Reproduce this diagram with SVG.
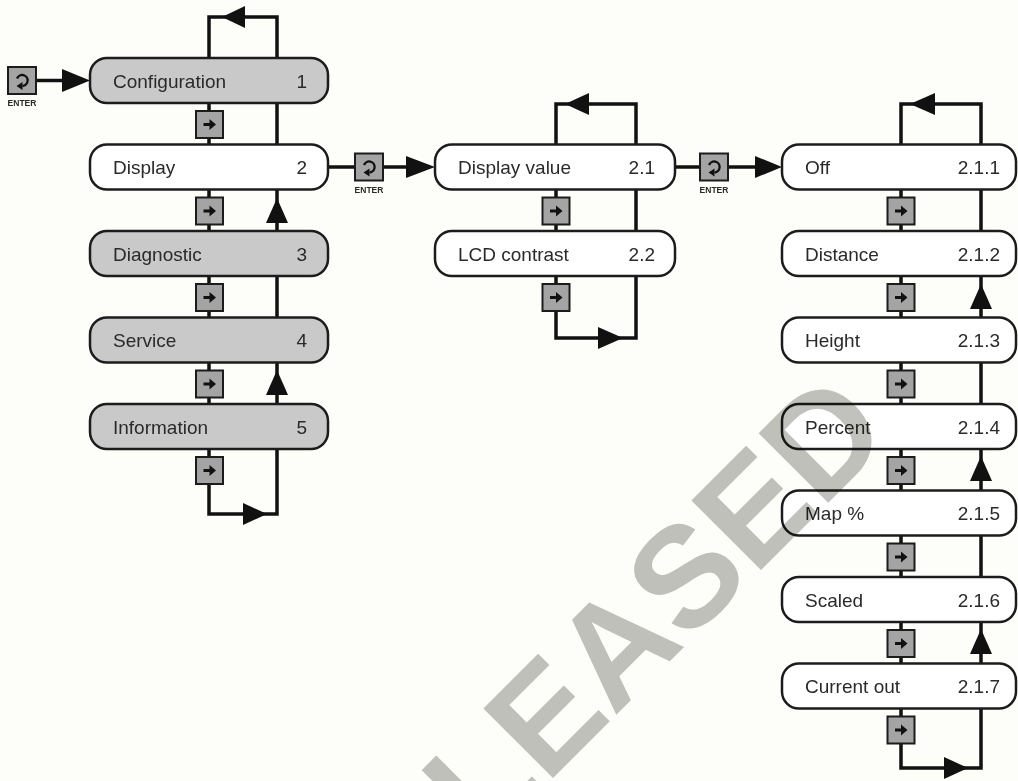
<svg xmlns="http://www.w3.org/2000/svg" xmlns:xlink="http://www.w3.org/1999/xlink" width="1018" height="781" viewBox="0 0 1018 781">
<style>
.node{stroke:#1c1c1c;stroke-width:2.5}
.g{fill:#c9c9c9}
.w{fill:#ffffff}
.lbl{font-family:"Liberation Sans",Arial,sans-serif;font-size:19px;fill:#2a2a2a}
.num{font-family:"Liberation Sans",Arial,sans-serif;font-size:19px;fill:#2a2a2a;text-anchor:end}
.wire{fill:none;stroke:#111;stroke-width:3.5}
.ah{fill:#111}
.ent{font-family:"Liberation Sans",Arial,sans-serif;font-weight:bold;font-size:8.5px;fill:#2a2a2a;text-anchor:middle}
.wm{font-family:"Liberation Sans",Arial,sans-serif;font-weight:bold;font-size:143px;fill:#c1c2bd;mix-blend-mode:multiply}
</style>
<defs>
<g id="btn">
<rect x="-13.5" y="-13.5" width="27" height="27" fill="#a4a4a4" stroke="#1c1c1c" stroke-width="2"/>
<polygon points="-6,-1.6 0,-1.6 0,-5.5 6.5,0 0,5.5 0,1.6 -6,1.6" fill="#111"/>
</g>
<g id="enter">
<rect x="-14" y="-13.5" width="28" height="27" fill="#a4a4a4" stroke="#1c1c1c" stroke-width="2"/>
<path d="M -5,-2 A 5.5,5.5 0 1 1 0.5,5.5" fill="none" stroke="#111" stroke-width="2.3"/>
<polygon points="-5.5,5.5 0.5,1.5 0.5,9.5" fill="#111"/>
</g>
</defs>
<rect x="0" y="0" width="1018" height="781" fill="#fdfdfa"/>

<g id="connectors">
<!-- left loop -->
<path class="wire" d="M209,17 H277 V514 H209 Z"/>
<polygon class="ah" points="222,17 245,6 245,28"/>
<polygon class="ah" points="267,514 243,503 243,525"/>
<polygon class="ah" points="277,198 266,223 288,223"/>
<polygon class="ah" points="277,370 266,395 288,395"/>
<!-- mid loop -->
<path class="wire" d="M556,104 H636 V338 H556 Z"/>
<polygon class="ah" points="565,104 589,93 589,115"/>
<polygon class="ah" points="623,338 598,327 598,349"/>
<!-- right loop -->
<path class="wire" d="M901,104 H981 V768 H901 Z"/>
<polygon class="ah" points="910,104 935,93 935,115"/>
<polygon class="ah" points="968,768 944,757 944,779"/>
<polygon class="ah" points="981,284 970,309 992,309"/>
<polygon class="ah" points="981,456 970,481 992,481"/>
<polygon class="ah" points="981,629 970,654 992,654"/>
<!-- enter links -->
<path class="wire" d="M36,80.5 H64"/>
<polygon class="ah" points="90,80.5 62,69 62,92"/>
<path class="wire" d="M328,167 H408"/>
<polygon class="ah" points="435,167 406,156 406,178"/>
<path class="wire" d="M675,167 H757"/>
<polygon class="ah" points="782,167 755,156 755,178"/>
</g>

<g id="enter-left"><use xlink:href="#enter" x="22" y="80.5"/><text class="ent" x="22" y="106">ENTER</text></g>
<g id="enter-mid"><use xlink:href="#enter" x="369" y="167"/><text class="ent" x="369" y="193">ENTER</text></g>
<g id="enter-right"><use xlink:href="#enter" x="714" y="167"/><text class="ent" x="714" y="193">ENTER</text></g>

<g id="buttons">
<use xlink:href="#btn" x="209.5" y="124.5"/>
<use xlink:href="#btn" x="209.5" y="211"/>
<use xlink:href="#btn" x="209.5" y="297.5"/>
<use xlink:href="#btn" x="209.5" y="384"/>
<use xlink:href="#btn" x="209.5" y="470.5"/>
<use xlink:href="#btn" x="556" y="211"/>
<use xlink:href="#btn" x="556" y="297.5"/>
<use xlink:href="#btn" x="901" y="211"/>
<use xlink:href="#btn" x="901" y="297.5"/>
<use xlink:href="#btn" x="901" y="384"/>
<use xlink:href="#btn" x="901" y="470.5"/>
<use xlink:href="#btn" x="901" y="557"/>
<use xlink:href="#btn" x="901" y="643.5"/>
<use xlink:href="#btn" x="901" y="730"/>
</g>

<g id="n1"><rect class="node g" x="90" y="58" width="238" height="45" rx="17"/><text class="lbl" x="113" y="87.5">Configuration</text><text class="num" x="307" y="87.5">1</text></g>
<g id="n2"><rect class="node w" x="90" y="144.5" width="238" height="45" rx="17"/><text class="lbl" x="113" y="174">Display</text><text class="num" x="307" y="174">2</text></g>
<g id="n3"><rect class="node g" x="90" y="231" width="238" height="45" rx="17"/><text class="lbl" x="113" y="260.5">Diagnostic</text><text class="num" x="307" y="260.5">3</text></g>
<g id="n4"><rect class="node g" x="90" y="317.5" width="238" height="45" rx="17"/><text class="lbl" x="113" y="347">Service</text><text class="num" x="307" y="347">4</text></g>
<g id="n5"><rect class="node g" x="90" y="404" width="238" height="45" rx="17"/><text class="lbl" x="113" y="433.5">Information</text><text class="num" x="307" y="433.5">5</text></g>

<g id="n21"><rect class="node w" x="435" y="144.5" width="240" height="45" rx="17"/><text class="lbl" x="458" y="174">Display value</text><text class="num" x="655" y="174">2.1</text></g>
<g id="n22"><rect class="node w" x="435" y="231" width="240" height="45" rx="17"/><text class="lbl" x="458" y="260.5">LCD contrast</text><text class="num" x="655" y="260.5">2.2</text></g>

<g id="n211"><rect class="node w" x="782" y="144.5" width="234" height="45" rx="17"/><text class="lbl" x="805" y="174">Off</text><text class="num" x="1000" y="174">2.1.1</text></g>
<g id="n212"><rect class="node w" x="782" y="231" width="234" height="45" rx="17"/><text class="lbl" x="805" y="260.5">Distance</text><text class="num" x="1000" y="260.5">2.1.2</text></g>
<g id="n213"><rect class="node w" x="782" y="317.5" width="234" height="45" rx="17"/><text class="lbl" x="805" y="347">Height</text><text class="num" x="1000" y="347">2.1.3</text></g>
<g id="n214"><rect class="node w" x="782" y="404" width="234" height="45" rx="17"/><text class="lbl" x="805" y="433.5">Percent</text><text class="num" x="1000" y="433.5">2.1.4</text></g>
<g id="n215"><rect class="node w" x="782" y="490.5" width="234" height="45" rx="17"/><text class="lbl" x="805" y="520">Map %</text><text class="num" x="1000" y="520">2.1.5</text></g>
<g id="n216"><rect class="node w" x="782" y="577" width="234" height="45" rx="17"/><text class="lbl" x="805" y="606.5">Scaled</text><text class="num" x="1000" y="606.5">2.1.6</text></g>
<g id="n217"><rect class="node w" x="782" y="663.5" width="234" height="45" rx="17"/><text class="lbl" x="805" y="693">Current out</text><text class="num" x="1000" y="693">2.1.7</text></g>

<text class="wm" x="344" y="987" transform="rotate(-45 344 987)">RELEASED</text>
</svg>
